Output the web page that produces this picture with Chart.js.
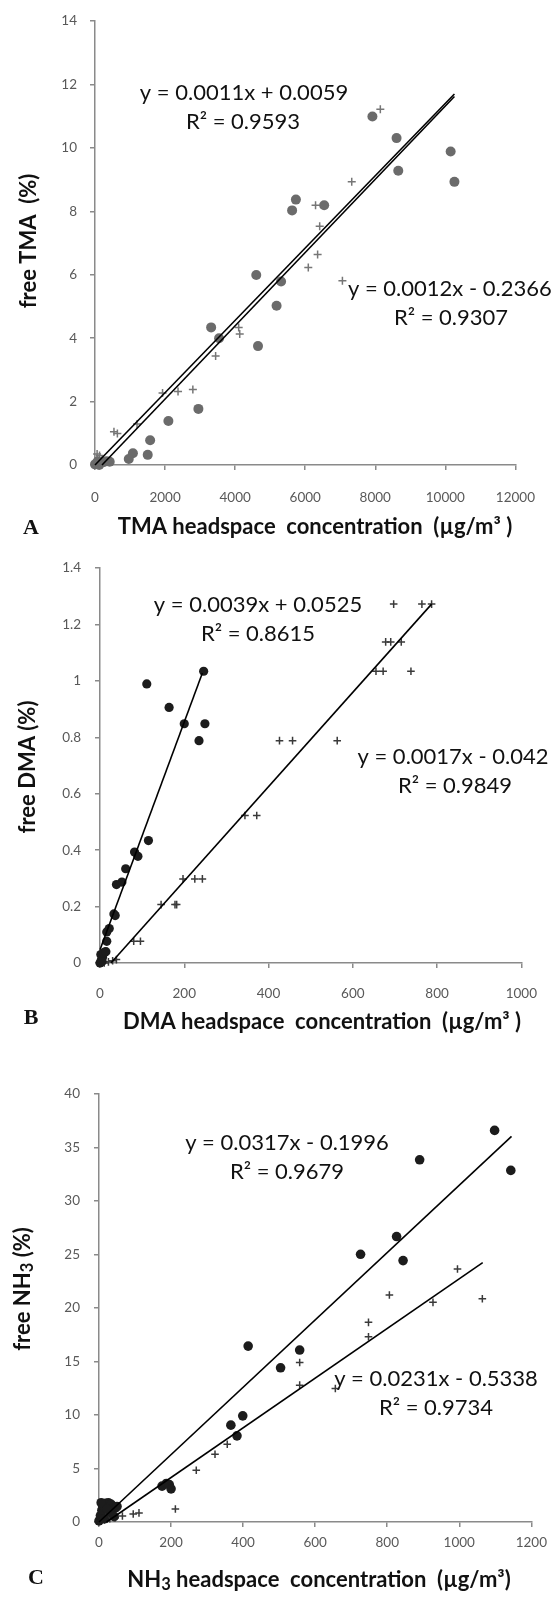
<!DOCTYPE html>
<html>
<head>
<meta charset="utf-8">
<script src="https://cdn.jsdelivr.net/npm/chart.js@4.4.1/dist/chart.umd.min.js"></script>
<style>
  html, body { margin: 0; padding: 0; background: #fff; }
  body { width: 555px; height: 1618px; position: relative; overflow: hidden; }
  canvas { position: absolute; left: 0; }
</style>
</head>
<body>
<canvas id="cA" width="555" height="545" style="top:0px;width:555px;height:545px"></canvas>
<canvas id="cB" width="555" height="505" style="top:545px;width:555px;height:505px"></canvas>
<canvas id="cC" width="555" height="568" style="top:1050px;width:555px;height:568px"></canvas>
<script>
// ---------------- DATA ----------------
// Panel A: TMA
const xTicksA = [0, 2000, 4000, 6000, 8000, 10000, 12000];
const yTicksA = [0, 2, 4, 6, 8, 10, 12, 14];
const yTickLabelsA = ['0', '2', '4', '6', '8', '10', '12', '14'];
const circlesA_x = [7918, 8607, 8656, 10151, 10259, 5734, 5626, 6541, 4603, 5311, 5183, 4652, 3315, 3541, 2951, 2095, 1574, 1505, 1082, 964, 0, 60, 120, 180, 250, 330, 420, 80];
const circlesA_y = [10.99, 10.31, 9.28, 9.89, 8.93, 8.37, 8.03, 8.19, 5.99, 5.79, 5.02, 3.75, 4.34, 4.00, 1.77, 1.39, 0.78, 0.32, 0.37, 0.19, 0.02, 0.05, 0.0, 0.08, 0.1, 0.12, 0.1, 0.12];
const crossesA_x = [8144, 7328, 6295, 6413, 6354, 6088, 7062, 4101, 4131, 3443, 2793, 2370, 1928, 1200, 541, 639, 60, 130, 200, 280, 380, 30];
const crossesA_y = [11.22, 8.93, 8.19, 7.53, 6.64, 6.23, 5.81, 4.34, 4.13, 3.44, 2.38, 2.32, 2.27, 1.29, 1.05, 0.99, 0.35, 0.3, 0.18, 0.06, 0.12, 0.1];
const trendA1_x = [0, 10259];
const trendA1_y = [0.0, 11.70];
const trendA2_x = [200, 10259];
const trendA2_y = [0.0, 11.62];

// Panel B: DMA
const xTicksB = [0, 200, 400, 600, 800, 1000];
const yTicksB = [0, 0.2, 0.4, 0.6, 0.8, 1, 1.2, 1.4];
const yTickLabelsB = ['0', '0.2', '0.4', '0.6', '0.8', '1', '1.2', '1.4'];
const circlesB_x = [246, 111, 164, 200, 249, 235, 115, 82, 90, 61, 52, 39, 33, 36, 22, 16, 16, 11, 0, 3, 6, 2, 9, 14, 5];
const circlesB_y = [1.034, 0.989, 0.906, 0.848, 0.848, 0.788, 0.434, 0.393, 0.378, 0.334, 0.287, 0.278, 0.174, 0.168, 0.122, 0.110, 0.077, 0.039, 0.0, 0.01, 0.02, 0.03, 0.035, 0.04, 0.005];
const crossesB_x = [697, 764, 787, 678, 690, 715, 655, 672, 738, 426, 457, 563, 344, 372, 197, 225, 243, 145, 178, 182, 80, 96, 39, 30, 20, 10];
const crossesB_y = [1.272, 1.272, 1.272, 1.138, 1.138, 1.138, 1.034, 1.034, 1.034, 0.788, 0.788, 0.788, 0.523, 0.523, 0.298, 0.298, 0.298, 0.207, 0.207, 0.207, 0.077, 0.077, 0.012, 0.008, 0.004, 0.0];
const trendB1_x = [0, 243];
const trendB1_y = [0.047, 1.028];
const trendB2_x = [26, 787];
const trendB2_y = [0.0, 1.272];

// Panel C: NH3
const xTicksC = [0, 200, 400, 600, 800, 1000, 1200];
const yTicksC = [0, 5, 10, 15, 20, 25, 30, 35, 40];
const yTickLabelsC = ['0', '5', '10', '15', '20', '25', '30', '35', '40'];
const circlesC_x = [1098, 1143, 890, 826, 844, 726, 414, 557, 504, 399, 366, 383, 175, 187, 195, 200, 0, 4, 8, 12, 18, 26, 34, 45, 50, 30, 42, 6, 22, 15];
const circlesC_y = [36.6, 32.86, 33.85, 26.68, 24.43, 25.02, 16.44, 16.07, 14.41, 9.92, 9.05, 8.05, 3.35, 3.6, 3.5, 3.1, 0.1, 0.6, 1.1, 1.5, 1.75, 1.8, 1.65, 1.3, 1.45, 0.9, 0.5, 1.8, 1.2, 0.3];
const crossesC_x = [995, 1064, 927, 806, 748, 748, 557, 557, 656, 356, 322, 270, 212, 111, 95, 65, 15, 30, 45, 20];
const crossesC_y = [23.65, 20.87, 20.53, 21.22, 18.66, 17.32, 14.91, 12.79, 12.48, 7.27, 6.33, 4.84, 1.22, 0.85, 0.75, 0.56, 0.2, 0.3, 0.4, 0.6];
const trendC1_x = [0, 1145];
const trendC1_y = [0.0, 36.04];
const trendC2_x = [21, 1065];
const trendC2_y = [0.0, 24.24];

// ---------------- HELPERS ----------------
const pts = (xs, ys) => xs.map((x, i) => ({ x: x, y: ys[i] }));

// rich text drawing: parts = [{t, sub?}]
function drawRich(ctx, parts, x, y, size, weight, family, align) {
  const mk = (s) => `${weight} ${s}px ${family}`;
  let total = 0;
  const widths = parts.map(p => {
    ctx.font = mk(p.sub ? size * 0.75 : size);
    const w = ctx.measureText(p.t).width;
    total += w;
    return w;
  });
  let cx = align === 'left' ? x : (align === 'right' ? x - total : x - total / 2);
  parts.forEach((p, i) => {
    const s = p.sub ? size * 0.75 : size;
    ctx.font = mk(s);
    const dy = p.sub ? size * 0.2 : 0;
    ctx.fillText(p.t, cx, y + dy);
    cx += widths[i];
  });
}

const textPlugin = {
  id: 'texts',
  afterDraw(chart, args, opts) {
    const ctx = chart.ctx;
    (opts.items || []).forEach(it => {
      ctx.save();
      ctx.fillStyle = it.color || '#111';
      ctx.textAlign = 'left';
      ctx.textBaseline = 'middle';
      ctx.translate(it.x, it.y);
      if (it.rot) ctx.rotate(it.rot);
      const parts = typeof it.text === 'string' ? [{ t: it.text }] : it.text;
      drawRich(ctx, parts, 0, 0, it.size, it.weight || 'normal', it.family || 'Lato, "Open Sans", sans-serif', it.align || 'center');
      ctx.restore();
    });
  }
};

function makePanel(id, cfg) {
  const H = document.getElementById(id).height;
  const axisColor = '#8a8a8a';
  const tickFont = { family: 'Lato, "Open Sans", sans-serif', size: 13.5 };
  return new Chart(document.getElementById(id), {
    type: 'scatter',
    data: {
      datasets: [
        { data: pts(cfg.t1x, cfg.t1y), showLine: true, pointRadius: 0, borderColor: '#000', borderWidth: 1.6, fill: false, clip: false },
        { data: pts(cfg.t2x, cfg.t2y), showLine: true, pointRadius: 0, borderColor: '#000', borderWidth: 1.6, fill: false, clip: false },
        { data: pts(cfg.cx, cfg.cy), pointStyle: 'circle', pointRadius: cfg.circR, backgroundColor: cfg.circColor, borderColor: cfg.circColor, borderWidth: 0, clip: false },
        { data: pts(cfg.xx, cfg.xy), pointStyle: 'cross', pointRadius: cfg.crossR, borderColor: cfg.crossColor, borderWidth: 1.5, clip: false }
      ]
    },
    options: {
      responsive: false,
      devicePixelRatio: 1,
      animation: false,
      events: [],
      layout: { padding: { left: 0, top: cfg.area.t, right: 555 - cfg.area.r, bottom: 0 } },
      plugins: {
        legend: { display: false },
        tooltip: { enabled: false },
        texts: { items: cfg.texts }
      },
      scales: {
        x: {
          type: 'linear',
          min: cfg.xTicks[0],
          max: cfg.xTicks[cfg.xTicks.length - 1],
          afterBuildTicks: s => { s.ticks = cfg.xTicks.map(v => ({ value: v })); },
          afterFit: s => { s.height = H - cfg.area.b; },
          ticks: { color: '#595959', font: tickFont, padding: cfg.xPad, maxRotation: 0, autoSkip: false, callback: (v) => String(v) },
          grid: { display: true, drawOnChartArea: false, drawTicks: true, tickLength: 5, color: axisColor, lineWidth: 1.5 },
          border: { display: true, color: axisColor, width: 1.5 }
        },
        y: {
          type: 'linear',
          min: cfg.yTicks[0],
          max: cfg.yTicks[cfg.yTicks.length - 1],
          afterBuildTicks: s => { s.ticks = cfg.yTicks.map(v => ({ value: v })); },
          afterFit: s => { s.width = cfg.area.l; },
          ticks: { color: '#595959', font: tickFont, padding: cfg.yPad, autoSkip: false, callback: (v, i) => cfg.yLabels[i] },
          grid: { display: true, drawOnChartArea: false, drawTicks: true, tickLength: 5, color: axisColor, lineWidth: 1.5 },
          border: { display: true, color: axisColor, width: 1.5 }
        }
      }
    },
    plugins: [textPlugin]
  });
}

const EQ = 22, TT = 22, LET = 22;
const serif = '"Liberation Serif", "DejaVu Serif", serif';

// Panel A (canvas top 0)
makePanel('cA', {
  area: { l: 95, r: 529, t: 19, b: 465 },
  xTicks: xTicksA, yTicks: yTicksA, yLabels: yTickLabelsA, xPad: 20, yPad: 13,
  t1x: trendA1_x, t1y: trendA1_y, t2x: trendA2_x, t2y: trendA2_y,
  cx: circlesA_x, cy: circlesA_y, xx: crossesA_x, xy: crossesA_y,
  circR: 5, circColor: '#6b6b6b', crossR: 4, crossColor: '#767676',
  texts: [
    { text: 'y = 0.0011x + 0.0059', x: 244, y: 93, size: EQ },
    { text: 'R² = 0.9593', x: 243, y: 122, size: EQ },
    { text: 'y = 0.0012x - 0.2366', x: 348, y: 289, size: EQ, align: 'left' },
    { text: 'R² = 0.9307', x: 451, y: 318, size: EQ },
    { text: 'free TMA  (%)', x: 29, y: 241, size: TT, weight: 'bold', rot: -Math.PI / 2 },
    { text: 'TMA headspace  concentration  (µg/m³ )', x: 315, y: 527, size: TT, weight: 'bold' },
    { text: 'A', x: 31, y: 528, size: LET, weight: 'bold', family: serif }
  ]
});

// Panel B (canvas top 545)
makePanel('cB', {
  area: { l: 100, r: 534, t: 23, b: 418 },
  xTicks: xTicksB, yTicks: yTicksB, yLabels: yTickLabelsB, xPad: 18, yPad: 14,
  t1x: trendB1_x, t1y: trendB1_y, t2x: trendB2_x, t2y: trendB2_y,
  cx: circlesB_x, cy: circlesB_y, xx: crossesB_x, xy: crossesB_y,
  circR: 4.6, circColor: '#1c1c1c', crossR: 3.8, crossColor: '#3a3a3a',
  texts: [
    { text: 'y = 0.0039x + 0.0525', x: 258, y: 60, size: EQ },
    { text: 'R² = 0.8615', x: 258, y: 89, size: EQ },
    { text: 'y = 0.0017x - 0.042', x: 453, y: 212, size: EQ },
    { text: 'R² = 0.9849', x: 455, y: 241, size: EQ },
    { text: 'free DMA (%)', x: 28, y: 222, size: TT, weight: 'bold', rot: -Math.PI / 2 },
    { text: 'DMA headspace  concentration  (µg/m³ )', x: 322, y: 477, size: TT, weight: 'bold' },
    { text: 'B', x: 31, y: 473, size: LET, weight: 'bold', family: serif }
  ]
});

// Panel C (canvas top 1050)
makePanel('cC', {
  area: { l: 99, r: 536, t: 44, b: 472 },
  xTicks: xTicksC, yTicks: yTicksC, yLabels: yTickLabelsC, xPad: 8, yPad: 14,
  t1x: trendC1_x, t1y: trendC1_y, t2x: trendC2_x, t2y: trendC2_y,
  cx: circlesC_x, cy: circlesC_y, xx: crossesC_x, xy: crossesC_y,
  circR: 4.8, circColor: '#1c1c1c', crossR: 3.8, crossColor: '#3a3a3a',
  texts: [
    { text: 'y = 0.0317x - 0.1996', x: 287, y: 93, size: EQ },
    { text: 'R² = 0.9679', x: 287, y: 122, size: EQ },
    { text: 'y = 0.0231x - 0.5338', x: 436, y: 329, size: EQ },
    { text: 'R² = 0.9734', x: 436, y: 358, size: EQ },
    { text: [{ t: 'free NH' }, { t: '3', sub: true }, { t: ' (%)' }], x: 23, y: 239, size: TT, weight: 'bold', rot: -Math.PI / 2 },
    { text: [{ t: 'NH' }, { t: '3', sub: true }, { t: ' headspace  concentration  (µg/m³)' }], x: 319, y: 530, size: TT, weight: 'bold' },
    { text: 'C', x: 36, y: 528, size: LET, weight: 'bold', family: serif }
  ]
});
</script>
</body>
</html>
